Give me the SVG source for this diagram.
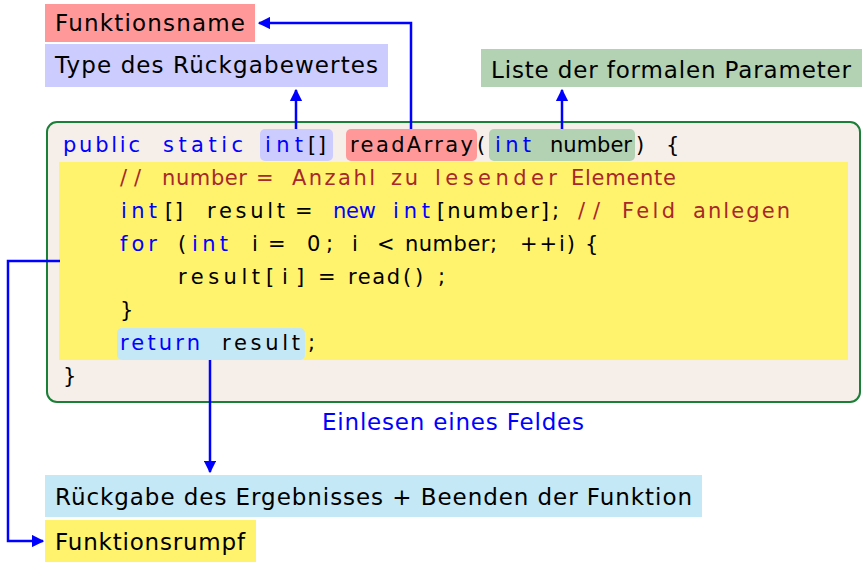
<svg xmlns="http://www.w3.org/2000/svg" width="862" height="563" viewBox="0 0 862 563">
<style>
text{font-family:"DejaVu Sans","Liberation Sans",sans-serif;}
.lbl{font-size:23px;fill:#000;}
.code{font-size:21px;fill:#000;}
.kw{fill:#0000ff;}
.cm{fill:#a8282a;}
.conn{fill:none;stroke:#0000ff;stroke-width:2.5;}
</style>
<defs>
<marker id="ah" viewBox="0 0 10 10" refX="9" refY="5" markerWidth="5" markerHeight="5" markerUnits="strokeWidth" orient="auto">
<path d="M0,0 L10,5 L0,10 z" fill="#0000ff"/>
</marker>
</defs>

<g id="code">
<rect x="47" y="122" width="813" height="280" rx="10" fill="#f6eee8" stroke="#1a7f37" stroke-width="2"/>
<rect x="59" y="162" width="789" height="198" fill="#fff36e"/>
<rect x="260" y="129" width="73" height="32" rx="5" fill="#ccccff"/>
<rect x="346" y="129" width="131" height="32" rx="5" fill="#ff9999"/>
<rect x="489" y="129" width="146" height="32" rx="5" fill="#b3d1b3"/>
<rect x="117" y="328" width="188" height="32" rx="5" fill="#c5e8f7"/>
<g class="code">
<text x="63" y="152" class="kw" textLength="77">public</text>
<text x="163" y="152" class="kw" textLength="80">static</text>
<text x="265" y="152" class="kw" textLength="38">int</text>
<text x="308" y="152" textLength="18">[]</text>
<text x="350" y="152" textLength="123">readArray</text>
<text x="477" y="152">(</text>
<text x="495" y="152" class="kw" textLength="36">int</text>
<text x="550" y="152" textLength="82">number</text>
<text x="636" y="152">)</text>
<text x="666" y="152">{</text>

<text x="120" y="185" class="cm" textLength="21">//</text>
<text x="162" y="185" class="cm" textLength="85">number</text>
<text x="256" y="185" class="cm">=</text>
<text x="292" y="185" class="cm" textLength="83">Anzahl</text>
<text x="391" y="185" class="cm" textLength="27">zu</text>
<text x="435" y="185" class="cm" textLength="122">lesender</text>
<text x="571" y="185" class="cm" textLength="105">Elemente</text>

<text x="121" y="218" class="kw" textLength="36">int</text>
<text x="165" y="218" textLength="18">[]</text>
<text x="207" y="218" textLength="78">result</text>
<text x="295" y="218">=</text>
<text x="333" y="218" class="kw" textLength="43">new</text>
<text x="393" y="218" class="kw" textLength="37">int</text>
<text x="437" y="218" textLength="112">[number]</text>
<text x="552" y="218">;</text>
<text x="578" y="218" class="cm" textLength="22">//</text>
<text x="622" y="218" class="cm" textLength="53">Feld</text>
<text x="693" y="218" class="cm" textLength="97">anlegen</text>

<text x="120" y="251" class="kw" textLength="37">for</text>
<text x="178" y="251">(</text>
<text x="192" y="251" class="kw" textLength="36">int</text>
<text x="252" y="251">i</text>
<text x="268" y="251">=</text>
<text x="307" y="251" textLength="26">0;</text>
<text x="352" y="251">i</text>
<text x="377" y="251">&lt;</text>
<text x="405" y="251" textLength="92">number;</text>
<text x="520" y="251" textLength="55">++i)</text>
<text x="585" y="251">{</text>

<text x="178" y="284" textLength="82">result</text>
<text x="266" y="284">[</text>
<text x="282" y="284">i</text>
<text x="296" y="284">]</text>
<text x="318" y="284">=</text>
<text x="348" y="284" textLength="52">read</text>
<text x="403" y="284">(</text>
<text x="415" y="284">)</text>
<text x="438" y="284">;</text>

<text x="120" y="317">}</text>

<text x="120" y="350" class="kw" textLength="80">return</text>
<text x="222" y="350" textLength="78">result</text>
<text x="308" y="350">;</text>

<text x="63" y="383">}</text>
</g>
</g>

<g id="caption">
<text x="322" y="430" class="lbl" style="fill:#0000ff" textLength="262">Einlesen eines Feldes</text>
</g>

<g id="funktionsname">
<rect x="45" y="4" width="210" height="38" fill="#ff9999"/>
<text x="55" y="31" class="lbl" textLength="190">Funktionsname</text>
</g>
<g id="rueckgabetyp">
<rect x="45" y="44" width="343" height="43" fill="#ccccff"/>
<text x="55" y="73" class="lbl" textLength="323">Type des Rückgabewertes</text>
</g>
<g id="parameter">
<rect x="481" y="49" width="381" height="38" fill="#b3d1b3"/>
<text x="491" y="78" class="lbl" textLength="360">Liste der formalen Parameter</text>
</g>
<g id="rueckgabe">
<rect x="45" y="475" width="657" height="42" fill="#c5e8f7"/>
<text x="55" y="505" class="lbl" textLength="637">Rückgabe des Ergebnisses + Beenden der Funktion</text>
</g>
<g id="rumpf">
<rect x="45" y="520" width="211" height="42" fill="#fff36e"/>
<text x="55" y="550" class="lbl" textLength="190">Funktionsrumpf</text>
</g>

<g id="connectors">
<polyline class="conn" points="411,129 411,23 259,23" marker-end="url(#ah)"/>
<polyline class="conn" points="296,129 296,90" marker-end="url(#ah)"/>
<polyline class="conn" points="562,129 562,90" marker-end="url(#ah)"/>
<polyline class="conn" points="60,261 8,261 8,541 43,541" marker-end="url(#ah)"/>
<polyline class="conn" points="210,360 210,472" marker-end="url(#ah)"/>
</g>
</svg>
